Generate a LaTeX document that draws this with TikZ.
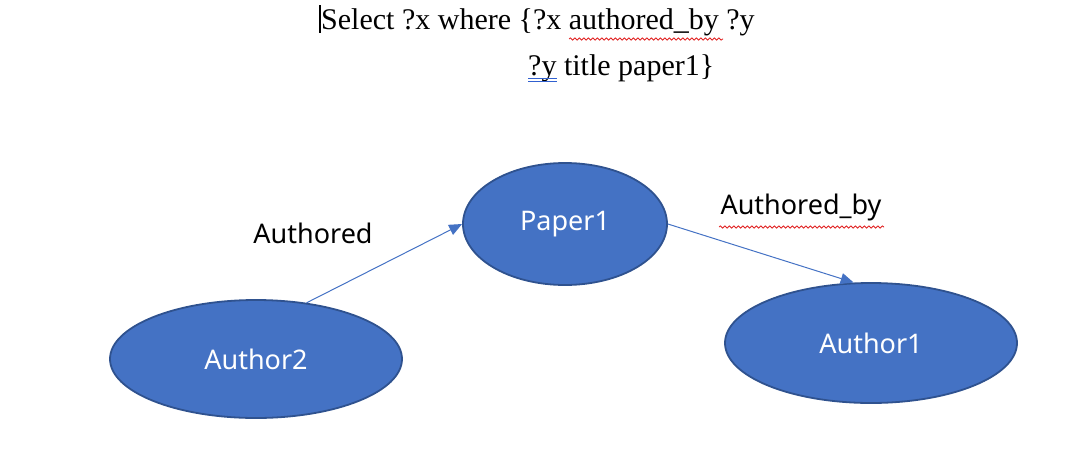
\documentclass[tikz,border=0pt]{standalone}
\usepackage{fontspec}
\setmainfont{Liberation Serif}
\newfontfamily\labfont{Noto Sans}
\usetikzlibrary{shapes.geometric,arrows.meta,decorations.pathmorphing}
\definecolor{ofblue}{HTML}{4472C4}
\definecolor{ofedge}{HTML}{2F528F}
\definecolor{spell}{HTML}{E02020}
\definecolor{gram}{HTML}{3060D0}
\tikzset{
  ent/.style={ellipse, fill=ofblue, draw=ofedge, line width=1.8pt, inner sep=0pt,
    text=white, font=\labfont\fontsize{27}{32}\selectfont},
  rel/.style={draw=ofblue, line width=1pt, -{Triangle[length=13pt,width=11pt]}},
  lbl/.style={font=\labfont\fontsize{27}{32}\selectfont, text=black, inner sep=0pt},
  qry/.style={font=\fontsize{30}{34}\selectfont, text=black, inner sep=0pt, anchor=base west},
  wavy/.style={draw=spell, line width=0.8pt, decorate, decoration={snake, amplitude=1.1pt, segment length=4.5pt}}
}
\begin{document}
\begin{tikzpicture}[x=1pt,y=-1pt]
\useasboundingbox (0,0) rectangle (1080,448);
\node[qry] (q1) at (321,29) {Select ?x where \{?x authored\_by ?y};
\node[qry] (q2) at (528,75) {?y title paper1\}};
\coordinate (c1) at (320,5);
\coordinate (c2) at (320,33);
\draw[black, line width=1.2pt] (c1) -- (c2);
\coordinate (w1) at (569,39);
\coordinate (w2) at (723,39);
\path[wavy] (w1) -- (w2);
\coordinate (u1) at (528,78);
\coordinate (u2) at (557,78);
\coordinate (u3) at (528,81);
\coordinate (u4) at (557,81);
\draw[gram, line width=0.8pt] (u1) -- (u2) (u3) -- (u4);

\node[ent, minimum width=204pt, minimum height=122pt] (P1) at (565,224) {Paper1};
\node[ent, minimum width=292pt, minimum height=118pt] (A2) at (256,359) {Author2};
\node[ent, minimum width=292pt, minimum height=120pt] (A1) at (871,343) {Author1};

\draw[rel] (A2.48) -- (P1.west);
\draw[rel] (P1.east) -- (A1.106);

\node[lbl] (l1) at (313,233) {Authored};
\node[lbl] (l2) at (801,207) {Authored\_by};
\coordinate (w3) at (719,227);
\coordinate (w4) at (884,227);
\path[wavy] (w3) -- (w4);
\end{tikzpicture}
\end{document}
